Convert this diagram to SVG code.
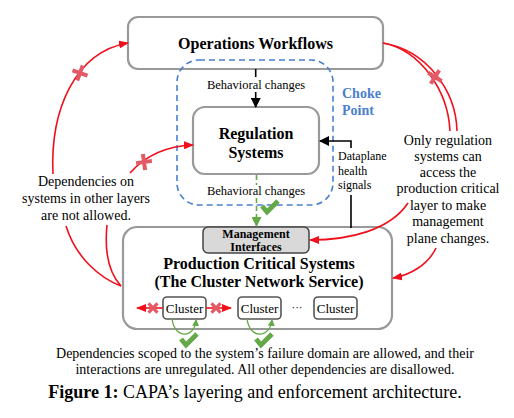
<svg xmlns="http://www.w3.org/2000/svg" width="514" height="418" viewBox="0 0 514 418">
<style>
.box{fill:#fff;stroke:#999;stroke-width:2.2}
.t{font-family:"Liberation Serif","Times New Roman",serif;fill:#000}
.b{font-weight:bold}
.red{fill:none;stroke:#f0101c;stroke-width:1.6}
.xm{stroke:#e35a66;stroke-width:4;fill:none}
.ck{stroke:#64a948;stroke-width:4.8;fill:none;stroke-linejoin:miter}
.clu{fill:#fff;stroke:#555;stroke-width:1.6}
</style>
<defs>
<marker id="ar" markerWidth="10" markerHeight="8" refX="9" refY="4" orient="auto" markerUnits="userSpaceOnUse"><path d="M0,0 L10,4 L0,8 Z" fill="#f0101c"/></marker>
<marker id="ak" markerWidth="10" markerHeight="10" refX="9" refY="5" orient="auto" markerUnits="userSpaceOnUse"><path d="M0,0 L10,5 L0,10 Z" fill="#000"/></marker>
<marker id="ag" markerWidth="10" markerHeight="10" refX="9" refY="5" orient="auto" markerUnits="userSpaceOnUse"><path d="M0,0 L10,5 L0,10 Z" fill="#64a948"/></marker>
<marker id="ag2" markerWidth="7" markerHeight="7" refX="6" refY="3.5" orient="auto" markerUnits="userSpaceOnUse"><path d="M0,0 L7,3.5 L0,7 Z" fill="#64a948"/></marker>
<g id="plus"><path class="xm" d="M-8,0 H8 M0,-8 V8"/></g>
<g id="chk"><path class="ck" d="M-8,-1 L-3,5 L8,-6"/></g>
</defs>

<g id="ops">
<rect class="box" x="128" y="17" width="255" height="52" rx="10"/>
<text class="t b" x="255.5" y="49" font-size="16" text-anchor="middle">Operations Workflows</text>
</g>

<g id="choke">
<rect x="177" y="60" width="156" height="145" rx="22" fill="none" stroke="#4a7fd0" stroke-width="1.6" stroke-dasharray="6,4"/>
<text class="t b" x="342" y="98" font-size="14" style="fill:#4a7fd0">Choke</text>
<text class="t b" x="342" y="115" font-size="14" style="fill:#4a7fd0">Point</text>
</g>

<g id="reg">
<rect class="box" x="193" y="107" width="126" height="67" rx="12"/>
<text class="t b" x="256" y="139" font-size="16" text-anchor="middle">Regulation</text>
<text class="t b" x="256" y="158" font-size="16" text-anchor="middle">Systems</text>
</g>

<g id="prod">
<rect class="box" x="123" y="227" width="269" height="102" rx="14"/>
<text class="t b" x="259" y="269" font-size="16" text-anchor="middle">Production Critical Systems</text>
<text class="t b" x="259" y="287" font-size="16" text-anchor="middle">(The Cluster Network Service)</text>
</g>

<g id="mgmt">
<rect x="203" y="227" width="106" height="26" rx="5" fill="#d9d9d9" stroke="#444" stroke-width="1.5"/>
<text class="t b" x="256" y="238" font-size="12" text-anchor="middle">Management</text>
<text class="t b" x="256" y="251" font-size="12" text-anchor="middle">Interfaces</text>
</g>

<g id="cluster1"><rect class="clu" x="163" y="297" width="43" height="22" rx="4"/><text class="t" x="184.5" y="313" font-size="13" text-anchor="middle">Cluster</text></g>
<g id="cluster2"><rect class="clu" x="238" y="297" width="43" height="22" rx="4"/><text class="t" x="259.5" y="313" font-size="13" text-anchor="middle">Cluster</text></g>
<text class="t" x="297" y="311" font-size="11" text-anchor="middle">···</text>
<g id="cluster3"><rect class="clu" x="314" y="297" width="43" height="22" rx="4"/><text class="t" x="335.5" y="313" font-size="13" text-anchor="middle">Cluster</text></g>

<g id="connectors">
<line x1="255.7" y1="69" x2="255.7" y2="77" stroke="#000" stroke-width="1.6"/>
<line x1="255.7" y1="92" x2="255.7" y2="107" stroke="#000" stroke-width="1.6" marker-end="url(#ak)"/>
<text class="t" x="256" y="89" font-size="12.5" text-anchor="middle">Behavioral changes</text>
<line x1="256.5" y1="175" x2="256.5" y2="185" stroke="#64a948" stroke-width="1.6" stroke-dasharray="5,3"/>
<line x1="256.5" y1="198" x2="256.5" y2="226" stroke="#64a948" stroke-width="1.6" stroke-dasharray="5,3" marker-end="url(#ag)"/>
<text class="t" x="256" y="195" font-size="12.5" text-anchor="middle">Behavioral changes</text>
<use href="#chk" x="270" y="207"/>
<path d="M351,148 V141 H320" fill="none" stroke="#000" stroke-width="1.6" marker-end="url(#ak)"/>
<line x1="351" y1="195" x2="351" y2="228" stroke="#000" stroke-width="1.6"/>
<text class="t" x="338" y="160" font-size="12">Dataplane</text>
<text class="t" x="338" y="175" font-size="12">health</text>
<text class="t" x="338" y="189" font-size="12">signals</text>
<path class="red" d="M53,174 C50,110 75,52 128,43" marker-end="url(#ar)"/>
<use href="#plus" transform="translate(80,73) rotate(20)"/>
<path class="red" d="M130,173 C145,156 165,146 193,145" marker-end="url(#ar)"/>
<use href="#plus" transform="translate(144,162) rotate(-8)"/>
<path class="red" d="M66,226 C76,258 100,278 121,286"/>
<path class="red" d="M107,225 C104,255 110,274 121,286"/>
<path class="red" d="M383,43 C420,50 448,90 450,131"/>
<path class="red" d="M383,43 C426,50 456,90 457,131"/>
<use href="#plus" transform="translate(435,77) rotate(32)"/>
<path class="red" d="M408,203 C390,230 350,240 310,240" marker-end="url(#ar)"/>
<path class="red" d="M436,248 C428,265 410,275 393,278" marker-end="url(#ar)"/>
<line x1="163" y1="308" x2="137" y2="308" class="red" marker-end="url(#ar)"/>
<line x1="206" y1="308" x2="231" y2="308" class="red" marker-end="url(#ar)"/>
<use href="#plus" transform="translate(153,308) rotate(45) scale(0.8)"/>
<use href="#plus" transform="translate(216,308) rotate(45) scale(0.8)"/>
<path d="M172,319 C175,340 195,338 196,320" fill="none" stroke="#64a948" stroke-width="1.3" marker-end="url(#ag2)"/>
<path d="M247,319 C250,340 270,338 272,320" fill="none" stroke="#64a948" stroke-width="1.3" marker-end="url(#ag2)"/>
<use href="#chk" x="189" y="340"/>
<use href="#chk" x="264" y="340"/>
</g>

<g id="labels">
<text class="t" font-size="14" text-anchor="middle"><tspan x="86" y="186">Dependencies on</tspan><tspan x="86" y="203">systems in other layers</tspan><tspan x="86" y="220">are not allowed.</tspan></text>
<text class="t" font-size="14" text-anchor="middle"><tspan x="448" y="145">Only regulation</tspan><tspan x="448" y="161">systems can</tspan><tspan x="448" y="177">access the</tspan><tspan x="448" y="193">production critical</tspan><tspan x="448" y="210">layer to make</tspan><tspan x="448" y="226">management</tspan><tspan x="448" y="243">plane changes.</tspan></text>
<text class="t" font-size="14" text-anchor="middle"><tspan x="265" y="358">Dependencies scoped to the system’s failure domain are allowed, and their</tspan><tspan x="265" y="374">interactions are unregulated. All other dependencies are disallowed.</tspan></text>
<text class="t" font-size="18" x="255" y="398" text-anchor="middle"><tspan font-weight="bold">Figure 1:</tspan> CAPA’s layering and enforcement architecture.</text>
</g>
</svg>
